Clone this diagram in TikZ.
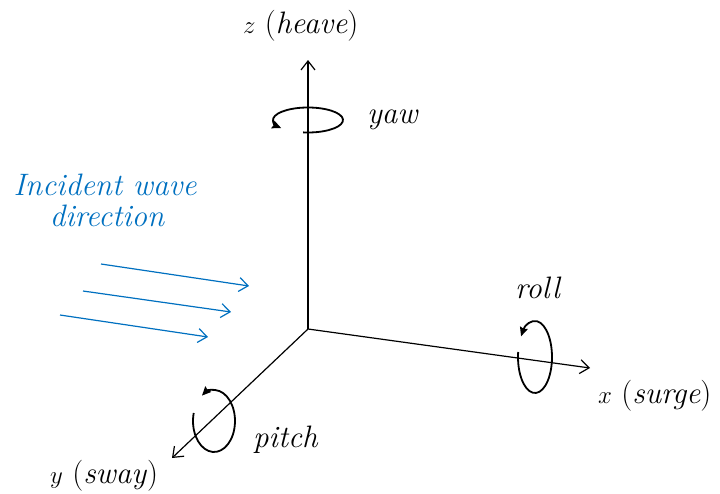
\documentclass[tikz,border=0pt]{standalone}
\usetikzlibrary{arrows.meta}
\definecolor{wblue}{HTML}{0070C0}
\begin{document}
\begin{tikzpicture}[x=1pt,y=-1pt,
  axis/.style={line width=1.2pt,-{Straight Barb[length=9pt,width=14pt]}},
  wave/.style={wblue,line width=1.2pt,-{Straight Barb[length=9pt,width=14pt]}},
  rot/.style={line width=1.8pt,-{Stealth[length=9pt,width=8pt,inset=1pt]}},
  lbl/.style={anchor=base west,inner sep=0pt,font=\fontsize{31}{34}\selectfont},
  blbl/.style={anchor=base,inner sep=0pt,text=wblue,font=\fontsize{31}{34}\selectfont\itshape}]
\useasboundingbox (0,0) rectangle (720,493);
\coordinate (o) at (308,329);
\coordinate (zt) at (308,60);
\coordinate (xt) at (590,368);
\coordinate (yt) at (172,458);
\draw[axis] (o) -- (zt);
\draw[axis] (o) -- (xt);
\draw[axis] (o) -- (yt);
% rotation arrows
\coordinate (yawc) at (308,120);
\coordinate (rollc) at (535,357);
\coordinate (pitchc) at (214,421);
\draw[rot] (yawc) ++(98:35 and 12.5) arc[start angle=98,end angle=-220,x radius=35,y radius=12.5];
\draw[rot] (rollc) ++(188:17 and 36) arc[start angle=188,end angle=-145,x radius=17,y radius=36];
\draw[rot] (pitchc) ++(195:21 and 31) arc[start angle=195,end angle=-125,x radius=21,y radius=31];
% labels
\node[lbl] (zl) at (243,33) {$z$ (\textit{heave})};
\node[lbl] (yawl) at (367,123) {\textit{yaw}};
\node[lbl] (rolll) at (515,298) {\textit{roll}};
\node[lbl] (pitchl) at (253,447) {\textit{pitch}};
\node[lbl] (xl) at (598,403) {$x$ (\textit{surge})};
\node[lbl] (yl) at (50,483) {$y$ (\textit{sway})};
% incident waves
\node[blbl] (w1) at (105,195) {Incident wave};
\node[blbl] (w2) at (107,226) {direction};
\coordinate (a1s) at (101,264); \coordinate (a1e) at (249,286);
\coordinate (a2s) at (83,291);  \coordinate (a2e) at (231,312);
\coordinate (a3s) at (60,315);  \coordinate (a3e) at (208,337);
\draw[wave] (a1s) -- (a1e);
\draw[wave] (a2s) -- (a2e);
\draw[wave] (a3s) -- (a3e);
\end{tikzpicture}
\end{document}
